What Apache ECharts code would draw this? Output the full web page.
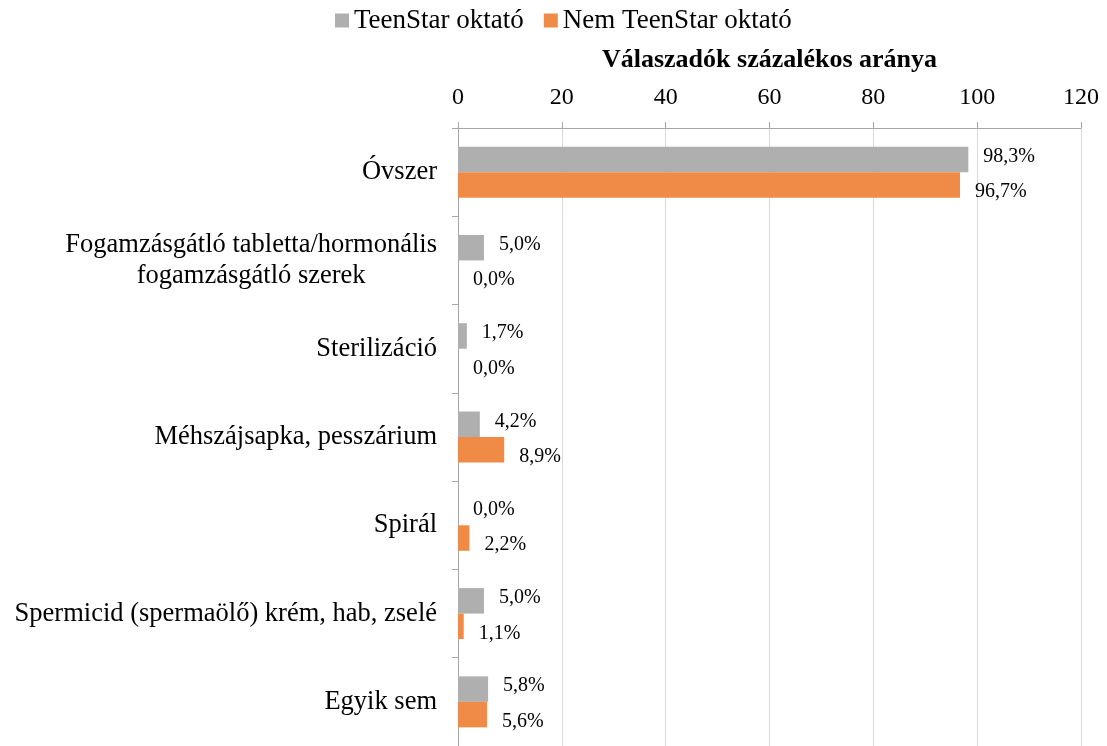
<!DOCTYPE html>
<html>
<head>
<meta charset="utf-8">
<script src="https://cdn.jsdelivr.net/npm/echarts@6/dist/echarts.min.js"></script>
<style>
  html, body { margin: 0; padding: 0; background: #ffffff; }
  #chart { width: 1107px; height: 746px; }
</style>
</head>
<body>
<div id="chart"></div>
<script>
// Contraceptive methods, share of respondents (%)
const categories = [
  'Óvszer',
  'Fogamzásgátló tabletta/hormonális\nfogamzásgátló szerek',
  'Sterilizáció',
  'Méhszájsapka, pesszárium',
  'Spirál',
  'Spermicid (spermaölő) krém, hab, zselé',
  'Egyik sem'
];
const seriesNames = ['TeenStar oktató', 'Nem TeenStar oktató'];
const teenStar = [98.3, 5.0, 1.7, 4.2, 0.0, 5.0, 5.8];
const nemTeenStar = [96.7, 0.0, 0.0, 8.9, 2.2, 1.1, 5.6];
const axisTitle = 'Válaszadók százalékos aránya';

const FONT = '"Liberation Serif", "Times New Roman", serif';
const fmt = v => v.toFixed(1).replace('.', ',') + '%';

const chart = echarts.init(document.getElementById('chart'), null, { renderer: 'canvas' });

const labelStyle = (dy) => ({
  show: true,
  position: 'right',
  distance: 15,
  offset: [0, dy],
  color: '#000',
  fontFamily: FONT,
  fontSize: 20,
  formatter: p => fmt(p.value)
});

chart.setOption({
  animation: false,
  textStyle: { fontFamily: FONT },
  legend: {
    top: 2,
    left: 330,
    icon: 'rect',
    itemWidth: 14,
    itemHeight: 14,
    itemGap: 20,
    textStyle: { fontFamily: FONT, fontSize: 27, color: '#000' },
    data: seriesNames
  },
  grid: { left: 458, right: 26, top: 128, height: 620, containLabel: false },
  xAxis: {
    type: 'value',
    position: 'top',
    min: 0,
    max: 120,
    interval: 20,
    name: axisTitle,
    nameLocation: 'middle',
    nameGap: 55,
    nameTextStyle: { fontFamily: FONT, fontSize: 26, fontWeight: 'bold', color: '#000' },
    axisLine: { show: true, lineStyle: { color: '#a6a6a6', width: 1 } },
    axisTick: { show: true, length: 6, lineStyle: { color: '#a6a6a6' } },
    axisLabel: { fontFamily: FONT, fontSize: 24, color: '#000', margin: 18 },
    splitLine: { show: true, lineStyle: { color: '#d9d9d9', width: 1 } }
  },
  yAxis: {
    type: 'category',
    inverse: true,
    data: categories,
    axisLine: { show: true, lineStyle: { color: '#a6a6a6', width: 1 } },
    axisTick: { show: true, length: 6, lineStyle: { color: '#a6a6a6' } },
    axisLabel: {
      fontFamily: FONT,
      fontSize: 26.5,
      color: '#000',
      margin: 21,
      lineHeight: 31,
      formatter: v => v.split('\n').map(s => '{c|' + s + '}').join('\n'),
      rich: { c: { align: 'center', fontFamily: FONT, fontSize: 26.5, color: '#000', lineHeight: 31 } }
    }
  },
  series: [
    {
      name: seriesNames[0],
      type: 'bar',
      data: teenStar,
      barWidth: 25.5,
      barGap: '0%',
      itemStyle: { color: '#afafaf' },
      label: labelStyle(-3)
    },
    {
      name: seriesNames[1],
      type: 'bar',
      data: nemTeenStar,
      barWidth: 25.5,
      barGap: '0%',
      itemStyle: { color: '#ef8b47' },
      label: labelStyle(7)
    }
  ]
});
</script>
</body>
</html>
